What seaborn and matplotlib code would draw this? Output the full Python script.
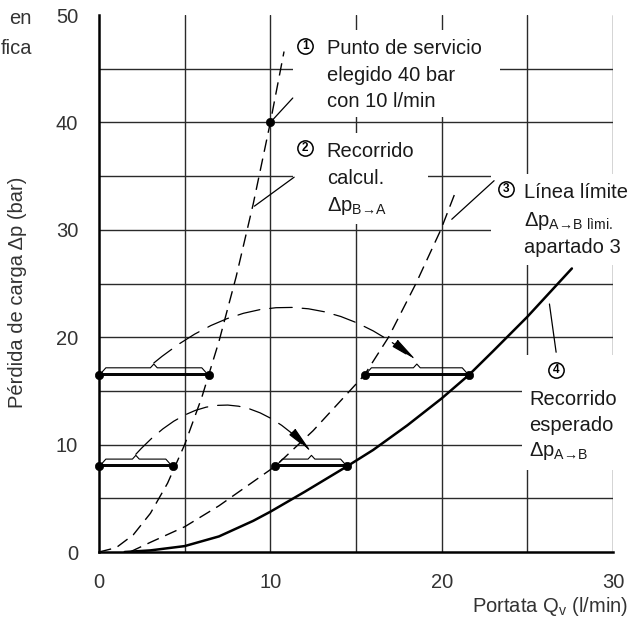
import matplotlib
matplotlib.use("Agg")
import matplotlib.pyplot as plt
from matplotlib.patches import Rectangle
import seaborn as sns

# --- data ---
# (2) calculated B->A curve (dashed)
q_calc = [0, 1, 2, 3, 4, 5, 6, 7, 8, 9, 10, 10.8]
dp_calc = [0, 0.4, 1.6, 3.6, 6.4, 10.0, 14.4, 19.6, 25.6, 32.4, 40.0, 46.6]
# (3) limit line A->B (dashed)
q_lim = [1.8, 3, 5, 7, 10.3, 12.5, 14, 15.5, 16.9, 18.5, 19.95, 20.8]
dp_lim = [0, 0.9, 2.35, 4.3, 8.0, 11.3, 13.9, 16.5, 20.0, 25.0, 30.0, 33.5]
# (4) expected A->B curve (solid)
q_exp = [1.5, 3, 5, 7, 9, 10, 12, 14.5, 16, 18, 20, 21.6, 23, 25, 27.6]
dp_exp = [0, 0.15, 0.55, 1.45, 2.9, 3.75, 5.6, 8.0, 9.5, 11.8, 14.3, 16.5, 18.7, 21.9, 26.4]
# (1) service point
service_q = [10]
service_dp = [40]
# flow spans (braces) at equal pressure loss
brace_dp = [8.0, 8.0, 16.5, 16.5]
brace_q0 = [0, 10.3, 0, 15.5]
brace_q1 = [4.3, 14.5, 6.4, 21.6]

x_ticks = [0, 10, 20, 30]
y_ticks = [0, 10, 20, 30, 40, 50]

note1 = ["Punto de servicio", "elegido 40 bar", "con 10 l/min"]
note2 = ["Recorrido", "calcul.", "Δp$_\\mathregular{B→A}$"]
note3 = ["Línea límite", "Δp$_\\mathregular{A→B\\ lìmi.}$", "apartado 3"]
note4 = ["Recorrido", "esperado", "Δp$_\\mathregular{A→B}$"]

sns.set_theme(style="white")
plt.rcParams["font.family"] = ["Liberation Sans", "DejaVu Sans"]
plt.rcParams["mathtext.fontset"] = "custom"
plt.rcParams["mathtext.rm"] = "Liberation Sans"

W, H = 631, 618
fig = plt.figure(figsize=(W / 100, H / 100), dpi=100)
ax = fig.add_axes([99 / W, 66 / H, 514 / W, 537 / H])
ax.set_xlim(0, 30)
ax.set_ylim(0, 50)

gcol = "#2a2a2a"
for g in range(5, 50, 5):
    ax.axhline(g, color=gcol, lw=1.0, zorder=0.5)
for g in range(5, 31, 5):
    ax.axvline(g, color=gcol, lw=1.0, zorder=0.5)

# white boxes behind the notes
for (x0, y0, x1, y1) in [(11.33, 40.5, 23.41, 48.6), (11.33, 30.5, 19.2, 39.0),
                         (22.88, 26.7, 31.1, 35.2), (24.7, 7.6, 31.1, 18.3)]:
    ax.add_patch(Rectangle((x0, y0), x1 - x0, y1 - y0, facecolor="white",
                           edgecolor="none", zorder=1, clip_on=False))

sns.lineplot(x=q_calc, y=dp_calc, ax=ax, color="black", lw=1.0,
             linestyle=(0, (9, 5)), estimator=None, sort=False, zorder=3)
sns.lineplot(x=q_lim, y=dp_lim, ax=ax, color="black", lw=1.0,
             linestyle=(0, (9, 5)), estimator=None, sort=False, zorder=3)
sns.lineplot(x=q_exp, y=dp_exp, ax=ax, color="black", lw=1.8,
             estimator=None, sort=False, zorder=3)

# braces
for y, a, b in zip(brace_dp, brace_q0, brace_q1):
    m = (a + b) / 2
    ax.plot([a, b], [y, y], color="black", lw=1.4, zorder=3)
    ax.plot([a + 0.15, b - 0.15], [y + 0.2, y + 0.2], color="black", lw=0.7, zorder=3)
    ax.plot([a + 0.15, a + 0.4, m - 0.2, m, m + 0.2, b - 0.4, b - 0.15],
            [y + 0.2, y + 0.65, y + 0.65, y + 1.0, y + 0.65, y + 0.65, y + 0.2],
            color="black", lw=0.8, zorder=3)

dot_q = brace_q0 + brace_q1 + service_q
dot_dp = brace_dp + brace_dp + service_dp
sns.scatterplot(x=dot_q, y=dot_dp, ax=ax, color="black", s=36,
                edgecolor="black", zorder=4, clip_on=False)

# arcs carrying the flow spans upward
for (i, j, rad) in [(0, 1, -0.54), (2, 3, -0.41)]:
    s = ((brace_q0[i] + brace_q1[i]) / 2, brace_dp[i] + 1.1)
    e = ((brace_q0[j] + brace_q1[j]) / 2, brace_dp[j] + 1.3)
    ax.annotate("", xy=e, xytext=s, zorder=3,
                arrowprops=dict(arrowstyle="-|>,head_length=1.4,head_width=0.22",
                                connectionstyle=f"arc3,rad={rad}", color="black",
                                lw=0.9, linestyle=(0, (18, 8)),
                                shrinkA=0, shrinkB=0))

# leaders
for (x0, y0, x1, y1) in [(11.31, 42.27, 10, 40), (11.39, 34.9, 9.07, 32.2),
                         (23.06, 34.57, 20.59, 30.98), (26.29, 23.09, 26.68, 18.6)]:
    ax.plot([x0, x1], [y0, y1], color="black", lw=0.9, zorder=3)

# numbered notes
tcol = "#1a1a1a"
fs = 14.5
for num, (cx, cy), (tx, base), lines, step in [
        ("1", (12.03, 47.1), (13.29, 46.37), note1, 2.48),
        ("2", (12.03, 37.6), (13.29, 36.8), note2, 2.52),
        ("3", (23.76, 33.77), (24.8, 33.0), note3, 2.6),
        ("4", (26.68, 16.95), (25.12, 13.7), note4, 2.4)]:
    ax.plot([cx], [cy], marker="o", ms=11, mfc="white", mec="black", mew=1.1,
            zorder=5, clip_on=False)
    ax.text(cx, cy, num, ha="center", va="center", fontsize=8.5,
            fontweight="bold", color="black", zorder=6)
    for k, line in enumerate(lines):
        ax.text(tx, base - k * step, line, ha="left", va="baseline",
                fontsize=fs, color=tcol, zorder=6, clip_on=False)

for side in ["top", "right"]:
    ax.spines[side].set_visible(False)
for side in ["left", "bottom"]:
    ax.spines[side].set_color("black")
    ax.spines[side].set_linewidth(1.8)
ax.set_xticks(x_ticks)
ax.set_yticks(y_ticks)
ax.tick_params(direction="out", length=6, width=1.5, color="black",
               labelsize=fs, labelcolor="#333333", pad=9)

fig.text(18 / W, 1 - 292 / H, "Pérdida de carga Δp (bar)", rotation=90,
         ha="center", va="center", fontsize=fs, color="#333333")
fig.text(628 / W, 1 - 612 / H, "Portata Q$_\\mathregular{v}$ (l/min)",
         ha="right", va="baseline", fontsize=fs, color="#333333")
fig.text(32 / W, 1 - 18 / H, "en", ha="right", va="center", fontsize=fs, color="#333333")
fig.text(32 / W, 1 - 48 / H, "fica", ha="right", va="center", fontsize=fs, color="#333333")

fig.savefig("out.png", dpi=100)
